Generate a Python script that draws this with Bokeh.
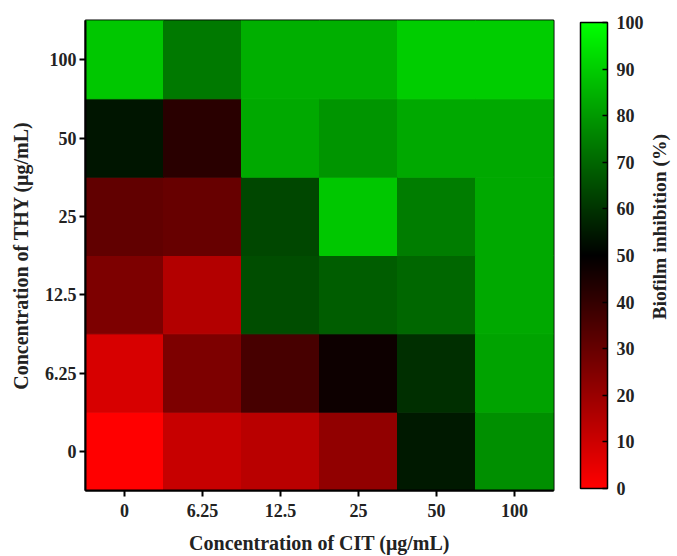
from bokeh.plotting import figure
from bokeh.models import (FactorRange, LinearColorMapper, ColorBar, FixedTicker,
                          ColumnDataSource, Range1d)
from bokeh.core.properties import value
from bokeh.layouts import row
from bokeh.embed import file_html
from bokeh.resources import INLINE
import math

cit = ["0", "6.25", "12.5", "25", "50", "100"]
thy = ["0", "6.25", "12.5", "25", "50", "100"]
# inhibition (%) rows by THY (bottom to top), columns by CIT
row_thy_0 = [0, 11, 14, 21.5, 55, 78]
row_thy_625 = [8, 25.5, 36, 47.5, 59, 82]
row_thy_125 = [25.5, 15, 65, 68, 70, 83]
row_thy_25 = [31, 30, 64, 89, 74.5, 83]
row_thy_50 = [54, 42, 83, 79, 83, 83]
row_thy_100 = [89, 73.5, 84, 84, 90, 90]
rows = [row_thy_0, row_thy_625, row_thy_125, row_thy_25, row_thy_50, row_thy_100]
cbar_ticks = [0, 10, 20, 30, 40, 50, 60, 70, 80, 90, 100]
cbar_title = "Biofilm inhibition (%)"

xs, ys, vs = [], [], []
for j, t in enumerate(thy):
    for i, c in enumerate(cit):
        xs.append(c); ys.append(t); vs.append(rows[j][i])
src = ColumnDataSource(dict(x=xs, y=ys, v=vs))

palette = []
for k in range(256):
    f = k / 255
    if f < 0.5:
        r, g = int(round(255 * (1 - 2 * f))), 0
    else:
        r, g = 0, int(round(255 * (2 * f - 1)))
    palette.append("#%02x%02x%02x" % (r, g, 0))
mapper = LinearColorMapper(palette=palette, low=0, high=100)

FONT = "Liberation Serif"
TXT = "#222222"
p = figure(width=651, height=556, x_range=FactorRange(*cit, range_padding=0),
           y_range=FactorRange(*thy, range_padding=0),
           output_backend="svg", toolbar_location=None,
           frame_width=468, frame_height=470, min_border_left=85, min_border_top=20)
p.rect(x="x", y="y", width=1, height=1, source=src,
       fill_color={"field": "v", "transform": mapper},
       line_color={"field": "v", "transform": mapper}, line_width=1)

p.outline_line_color = "black"
p.outline_line_width = 2
p.grid.visible = False
for ax in (p.xaxis[0], p.yaxis[0]):
    ax.axis_line_width = 2
    ax.axis_line_color = "black"
    ax.major_tick_line_width = 2
    ax.major_tick_out = 6
    ax.major_tick_in = 0
    ax.minor_tick_line_color = None
    ax.major_label_text_font = FONT
    ax.major_label_text_font_style = "bold"
    ax.major_label_text_font_size = "18px"
    ax.major_label_text_color = TXT
    ax.axis_label_text_font = FONT
    ax.axis_label_text_font_style = "bold"
    ax.axis_label_text_font_size = "20px"
    ax.axis_label_text_color = TXT
    ax.group_text_font_size = "0px"
p.xaxis.axis_label = "Concentration of CIT (μg/mL)"
p.yaxis.axis_label = "Concentration of THY (μg/mL)"
p.xaxis.major_label_standoff = 7
p.yaxis.major_label_standoff = 3
p.xaxis.axis_label_standoff = 12
p.yaxis.axis_label_standoff = 10

cb = ColorBar(color_mapper=mapper, ticker=FixedTicker(ticks=cbar_ticks), width=27,
              height=466, padding=0, margin=0, location=(27, 2),
              bar_line_color="black", bar_line_width=1.5,
              major_tick_line_color="black", major_tick_line_width=1.5,
              major_tick_in=5, major_tick_out=0,
              minor_tick_line_color=None, label_standoff=9,
              major_label_text_font=FONT, major_label_text_font_style="bold",
              major_label_text_font_size="18px", major_label_text_color=TXT,
              border_line_color=None, background_fill_color=None)
p.add_layout(cb, "right")

# narrow companion panel holding the colour-bar title, read bottom to top
p2 = figure(width=26, height=556, x_range=Range1d(0, 26), y_range=Range1d(0, 556),
            output_backend="svg", toolbar_location=None, min_border=0,
            x_axis_location=None, y_axis_location=None)
p2.outline_line_color = None
p2.grid.visible = False
p2.text(x=[13], y=[312], text=[cbar_title], angle=math.pi / 2,
        text_align="center", text_baseline="middle", text_font=value(FONT),
        text_font_style="bold", text_font_size="19.5px", text_color=TXT)

layout = row(p, p2, spacing=0)
open("out.html", "w").write(file_html(layout, INLINE))
